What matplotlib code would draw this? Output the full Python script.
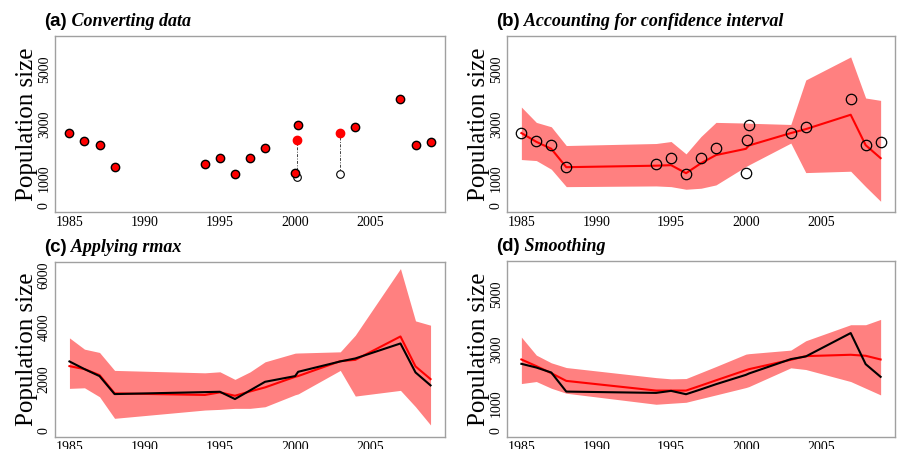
import matplotlib
matplotlib.use("Agg")
import matplotlib.pyplot as plt

# raw counts (panel a / b)
raw_years = [1985, 1986, 1987, 1988, 1994, 1995, 1996, 1997, 1998, 2000.0, 2000.2, 2004, 2007, 2008, 2009]
raw_counts = [2670, 2385, 2225, 1437, 1537, 1747, 1168, 1770, 2138, 1216, 2973, 2910, 3906, 2248, 2347]
conv_years = [2000.1, 2003]
conv_before = [1046, 1157]
conv_after = [2432, 2668]

# fitted series, shared years
fit_years = [1985, 1986, 1987, 1988, 1994, 1995, 1996, 1997, 1998, 2000, 2000.2, 2003, 2004, 2007, 2008, 2009]

b_mean = [2670, 2347, 2090, 1415, 1470, 1489, 1194, 1560, 1860, 2090, 2212, 2668, 2813, 3342, 2224, 1747]
b_upper = [3626, 3061, 2900, 2211, 2285, 2358, 1904, 2543, 3061, 3037, 3030, 2985, 4620, 5468, 3957, 3870]
b_lower = [1696, 1658, 1340, 700, 726, 700, 604, 641, 763, 1440, 1500, 2300, 1216, 1266, 700, 162]

c_red = [2493, 2378, 2147, 1441, 1380, 1480, 1349, 1515, 1672, 2081, 2110, 2686, 2736, 3638, 2482, 1992]
c_black = [2674, 2378, 2108, 1414, 1490, 1503, 1222, 1555, 1888, 2108, 2274, 2674, 2790, 3368, 2250, 1750]
c_upper = [3584, 3148, 3021, 2328, 2235, 2274, 1981, 2270, 2659, 2994, 3000, 3045, 3688, 6258, 4239, 4073]
c_lower = [1634, 1657, 1310, 478, 798, 823, 863, 863, 925, 1387, 1420, 2328, 1337, 1557, 925, 220]

d_red = [2617, 2373, 2113, 1830, 1474, 1474, 1474, 1660, 1850, 2224, 2260, 2605, 2740, 2790, 2753, 2617]
d_black = [2457, 2321, 2137, 1437, 1389, 1463, 1340, 1520, 1708, 2052, 2101, 2630, 2728, 3588, 2445, 1979]
d_upper = [3440, 2777, 2494, 2321, 1950, 1905, 1916, 2137, 2358, 2813, 2830, 2961, 3305, 3894, 3894, 4090]
d_lower = [1732, 1806, 1560, 1376, 971, 1008, 1044, 1180, 1314, 1585, 1620, 2310, 2248, 1806, 1560, 1314]

x_ticks = [1985, 1990, 1995, 2000, 2005]
y_ticks = [0, 1000, 3000, 5000]
y_ticks_c = [0, 2000, 4000, 6000]

SERIF = "Liberation Serif"
BAND = "#ff8080"

fig = plt.figure(figsize=(8.98, 4.49), dpi=100)
W, H = 898, 449


def make_axes(left, top, right, bottom):
    return fig.add_axes([left / W, 1 - bottom / H, (right - left) / W, (bottom - top) / H])


def style(ax, letter, title, yticks, ylim):
    ax.set_xlim(1984.04, 2009.96)
    ax.set_ylim(*ylim)
    ax.set_xticks(x_ticks)
    ax.set_yticks(yticks)
    ax.set_xticklabels([str(t) for t in x_ticks], fontfamily=SERIF, fontsize=10)
    ax.set_yticklabels([str(t) for t in yticks], fontfamily=SERIF, fontsize=10,
                       rotation=90, va="center")
    ax.tick_params(axis="both", length=0)
    ax.tick_params(axis="x", pad=3)
    ax.tick_params(axis="y", pad=3)
    for s in ax.spines.values():
        s.set_color("#a0a0a0")
        s.set_linewidth(1.0)
    ax.set_ylabel("Population size", fontfamily=SERIF, fontsize=18, labelpad=0)
    h = ax.get_position().height * H
    w = ax.get_position().width * W
    t1 = ax.text(-11 / w, 1 + 10 / h, letter, transform=ax.transAxes,
                 fontfamily="Liberation Sans", fontweight="bold", fontsize=13.5,
                 ha="left", va="baseline")
    ax.annotate(" " + title, xy=(1, 0), xycoords=t1, va="bottom", ha="left",
                fontfamily=SERIF, fontweight="bold", fontstyle="italic", fontsize=13)


ylim_abd = (-232, 6236)
ylim_c = (-243, 6513)

# (a) converting data
ax = make_axes(55, 36, 445, 212)
for x, y0, y1 in zip(conv_years, conv_before, conv_after):
    ax.plot([x, x], [y0, y1], color="#444444", lw=0.7, ls=(0, (3, 1.5, 1, 1.5)), zorder=1)
ax.plot(conv_years, conv_before, "o", mfc="white", mec="black", mew=0.8, ms=5.5, zorder=2)
ax.plot(raw_years, raw_counts, "o", mfc="red", mec="black", mew=1.0, ms=6, zorder=3)
ax.plot(conv_years, conv_after, "o", mfc="red", mec="red", ms=6, zorder=3)
style(ax, "(a)", "Converting data", y_ticks, ylim_abd)

# (b) confidence interval
ax = make_axes(507, 36, 895, 212)
ax.fill_between(fit_years, b_lower, b_upper, color=BAND, lw=0)
ax.plot(fit_years, b_mean, color="red", lw=1.5)
ax.plot(raw_years + conv_years, raw_counts + conv_after, "o", mfc="none", mec="black",
        mew=0.9, ms=7.5)
style(ax, "(b)", "Accounting for confidence interval", y_ticks, ylim_abd)

# (c) rmax
ax = make_axes(55, 262, 445, 437)
ax.fill_between(fit_years, c_lower, c_upper, color=BAND, lw=0)
ax.plot(fit_years, c_red, color="red", lw=1.5)
ax.plot(fit_years, c_black, color="black", lw=1.5)
style(ax, "(c)", "Applying rmax", y_ticks_c, ylim_c)

# (d) smoothing
ax = make_axes(507, 261, 895, 437)
ax.fill_between(fit_years, d_lower, d_upper, color=BAND, lw=0)
ax.plot(fit_years, d_red, color="red", lw=1.5)
ax.plot(fit_years, d_black, color="black", lw=1.5)
style(ax, "(d)", "Smoothing", y_ticks, ylim_abd)

fig.savefig("out.png", dpi=100)
